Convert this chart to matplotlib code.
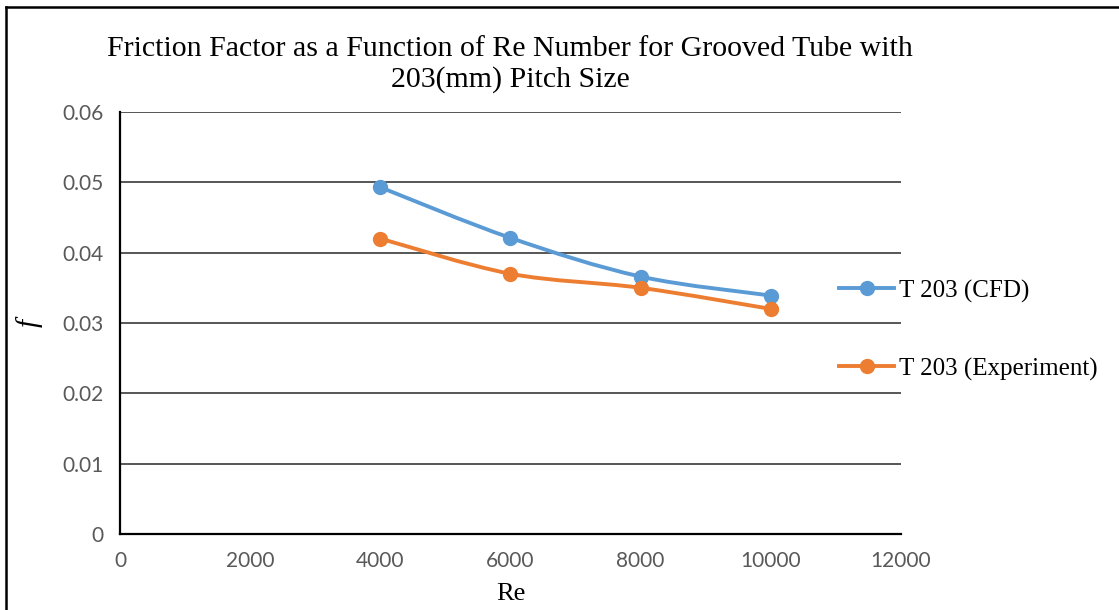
import matplotlib
matplotlib.use("Agg")
import matplotlib.pyplot as plt
import numpy as np
from matplotlib.path import Path
from matplotlib.patches import PathPatch
from matplotlib.lines import Line2D

re_num = [4000, 6000, 8000, 10000]
f_cfd = [0.0493, 0.0421, 0.0366, 0.0339]
f_exp = [0.0420, 0.0370, 0.0350, 0.0320]
labels = ["T 203 (CFD)", "T 203 (Experiment)"]
xticks = [0, 2000, 4000, 6000, 8000, 10000, 12000]
yticks = [0, 0.01, 0.02, 0.03, 0.04, 0.05, 0.06]

blue = "#5B9BD5"
orange = "#ED7D31"
serif = "Liberation Serif"
sans = "Lato"


def smooth_path(x, y, tension=1 / 6):
    # Catmull-Rom style bezier through the points (like excel's smoothed line)
    x = np.asarray(x, float)
    y = np.asarray(y, float)
    verts = [(x[0], y[0])]
    codes = [Path.MOVETO]
    n = len(x)
    for i in range(n - 1):
        i0 = max(i - 1, 0)
        i3 = min(i + 2, n - 1)
        c1 = (x[i] + (x[i + 1] - x[i0]) * tension, y[i] + (y[i + 1] - y[i0]) * tension)
        c2 = (x[i + 1] - (x[i3] - x[i]) * tension, y[i + 1] - (y[i3] - y[i]) * tension)
        verts += [c1, c2, (x[i + 1], y[i + 1])]
        codes += [Path.CURVE4] * 3
    return Path(verts, codes)


fig = plt.figure(figsize=(11.19, 6.10), dpi=100)
ax = fig.add_axes([0.1072, 0.1246, 0.6980, 0.6918])

for ys, c in [(f_cfd, blue), (f_exp, orange)]:
    ax.add_patch(PathPatch(smooth_path(re_num, ys), fill=False, edgecolor=c,
                           lw=2.8, capstyle="round", joinstyle="round", zorder=3))
    ax.plot(re_num, ys, "o", color=c, ms=10, zorder=4)

ax.set_xlim(0, 12000)
ax.set_ylim(0, 0.06)
ax.set_xticks(xticks)
ax.set_yticks(yticks)
ax.set_xticklabels([str(v) for v in xticks])
ax.set_yticklabels(["0", "0.01", "0.02", "0.03", "0.04", "0.05", "0.06"])
ax.tick_params(length=0, labelsize=15, labelcolor="#595959", pad=12)
for lab in ax.get_xticklabels() + ax.get_yticklabels():
    lab.set_family(sans)

ax.grid(axis="y", color="#3a3a3a", lw=1.2)
ax.set_axisbelow(True)
for s in ["top", "right"]:
    ax.spines[s].set_visible(False)
for s in ["left", "bottom"]:
    ax.spines[s].set_linewidth(1.6)
    ax.spines[s].set_color("black")

ax.set_xlabel("Re", family=serif, fontsize=19, labelpad=9)
ax.set_ylabel("f", family=serif, style="italic", fontsize=21, labelpad=14)

fig.text(0.456, 0.894, "Friction Factor as a Function of Re Number for Grooved Tube with\n203(mm) Pitch Size",
         ha="center", va="center", family=serif, fontsize=21.5, linespacing=1.22)

handles = [Line2D([], [], color=blue, lw=2.8, marker="o", ms=10),
           Line2D([], [], color=orange, lw=2.8, marker="o", ms=10)]
leg = fig.legend(handles, labels, loc="center left", bbox_to_anchor=(0.730, 0.459),
                 frameon=False, prop={"family": serif, "size": 18},
                 labelspacing=2.2, handlelength=2.2, handletextpad=0.2)

# frame edges along the top and left of the chart area
fig.add_artist(Line2D([0.0054, 0.0054], [0, 0.9885], color="black", lw=1.8, transform=fig.transFigure))
fig.add_artist(Line2D([0.0054, 1], [0.9885, 0.9885], color="black", lw=1.8, transform=fig.transFigure))

fig.savefig("out.png", dpi=100)
